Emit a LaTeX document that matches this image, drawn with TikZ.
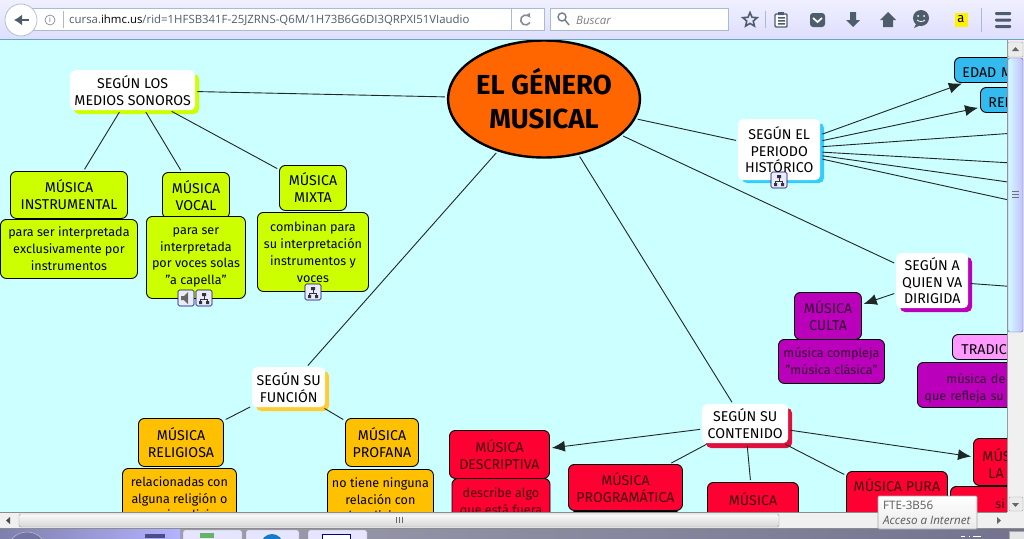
\documentclass[tikz,border=0pt]{standalone}
\usepackage{fontspec}
\setmainfont{Fira Sans}
\newfontfamily\uifont{Open Sans}
\usetikzlibrary{arrows.meta,shapes.geometric}
\definecolor{canvas}{HTML}{CCFFFF}
\definecolor{limec}{HTML}{CCFF00}
\definecolor{bluec}{HTML}{33BBF0}
\definecolor{bluel}{HTML}{33CCFF}
\definecolor{purplec}{HTML}{BB00BB}
\definecolor{pinkc}{HTML}{FF99FF}
\definecolor{ambc}{HTML}{FFC000}
\definecolor{redc}{HTML}{FF0033}
\definecolor{crimsonc}{HTML}{E0103C}
\definecolor{orangec}{HTML}{FF6600}
\definecolor{uigray}{HTML}{4E5D6C}
\definecolor{uiline}{HTML}{A9BCCB}
\tikzset{
  x=1pt,y=-1pt,
  txt/.style={font=\fontsize{14.2}{16.9}\selectfont,align=center,text=black,execute at begin node={\rule{0pt}{16pt}}},
  desc/.style={font=\fontsize{12.6}{16.9}\selectfont,execute at begin node={\rule{0pt}{12.5pt}}},
  box/.style={txt,draw=black,line width=.9pt,rounded corners=6pt,inner sep=0pt,anchor=north west},
  topic/.style={txt,fill=white,rounded corners=5pt,inner sep=0pt,anchor=north west},
  backing/.style={fill=#1,rounded corners=5pt},
  link/.style={draw=black!85!canvas,line width=.9pt,shorten <=2pt,shorten >=2pt},
  arrowlink/.style={link,-{Latex[length=13pt,width=11pt]}},
  iconbox/.style={draw=blue!45!black,line width=.6pt,fill=blue!8,rounded corners=1.5pt},
  ctl/.style={fill=#1,draw=uiline,line width=.7pt},
  offpage/.style={align=left,inner xsep=#1}
}
\newcommand{\treeicon}[2]{%
  \draw[iconbox] (#1,#2) rectangle ++(16,16);
  \fill[black!80] (#1+6,#2+3) rectangle ++(4,3) (#1+3,#2+11) rectangle ++(3,3)
     (#1+10,#2+11) rectangle ++(3,3);
  \draw[black!80,line width=.6pt] (#1+8,#2+6) -- (#1+8,#2+9) (#1+4.5,#2+11) -- (#1+4.5,#2+9) -- (#1+11.5,#2+9) -- (#1+11.5,#2+11);
}
\begin{document}
\begin{tikzpicture}
\clip (0,0) rectangle (1024,538);
\fill[canvas] (0,0) rectangle (1024,538);

% ---- shadows of the topic nodes
\fill[backing=limec] (74,74) rectangle (199,114);
\fill[backing=bluel] (742,123) rectangle (824,183);
\fill[backing=purplec] (900,257) rectangle (972,312);
\fill[backing=ambc!80!white] (256,371) rectangle (329,411);
\fill[backing=crimsonc] (706,408) rectangle (792,448);

% ---- nodes
\node[ellipse,draw=black,line width=2.4pt,fill=orangec,minimum width=191pt,minimum height=117pt,inner sep=0pt,align=center,
  font=\fontsize{27.5}{34}\bfseries\selectfont,execute at begin node={\rule{0pt}{30pt}}] (root) at (544,99) {EL GÉNERO\\MUSICAL};

\node[topic,minimum width=125pt,minimum height=40pt] (medios) at (70,70) {SEGÚN LOS\\MEDIOS SONOROS};
\node[topic,minimum width=82pt,minimum height=61pt] (periodo) at (738,119) {SEGÚN EL\\PERIODO\hspace*{7pt}\\HISTÓRICO};
\node[topic,minimum width=72pt,minimum height=55pt] (quien) at (896,253) {SEGÚN A\\QUIEN VA\\DIRIGIDA};
\node[topic,minimum width=73pt,minimum height=40pt] (funcion) at (252,367) {SEGÚN SU\\FUNCIÓN};
\node[topic,minimum width=86pt,minimum height=39pt] (contenido) at (702,404) {SEGÚN SU\\CONTENIDO};

% lime group
\node[box,fill=limec,minimum width=117pt,minimum height=47pt] (instr) at (10,171) {MÚSICA\\INSTRUMENTAL};
\node[box,desc,fill=limec,minimum width=137pt,minimum height=59pt] (instrd) at (0,219) {para ser interpretada\\exclusivamente por\\instrumentos};
\node[box,fill=limec,minimum width=67pt,minimum height=46pt] (vocal) at (162,172) {MÚSICA\\VOCAL};
\node[box,desc,fill=limec,minimum width=99pt,minimum height=82pt] (vocald) at (146,216) {para ser\\interpretada\\por voces solas\\"a capella"};
\node[box,fill=limec,minimum width=67pt,minimum height=45pt] (mixta) at (279,165) {MÚSICA\\MIXTA};
\node[box,desc,fill=limec,minimum width=111pt,minimum height=79pt] (mixtad) at (257,212) {combinan para\\su interpretación\\instrumentos y\\voces};

% blue group (run off the right edge)
\node[box,offpage=8pt,fill=bluec,text width=74pt,minimum height=25pt] (edad) at (954,57) {EDAD M};
\node[box,offpage=8pt,fill=bluec,text width=54pt,minimum height=25pt] (renac) at (980,87) {REN};
\coordinate (p3) at (1100,127);
\coordinate (p4) at (1100,168);
\coordinate (p5) at (1100,195);
\coordinate (p6) at (1100,220);

% purple group
\node[box,fill=purplec,text=black!75!purplec,minimum width=67pt,minimum height=47pt] (culta) at (794,292) {MÚSICA\\CULTA};
\node[box,desc,fill=purplec,text=black!75!purplec,minimum width=106pt,minimum height=44pt] (cultad) at (778,339) {música compleja\\"música clásica"};
\node[box,offpage=9pt,fill=pinkc,text width=92pt,minimum height=25pt] (trad) at (952,334) {TRADIC};
\node[box,desc,offpage=7pt,fill=purplec,text=black!75!purplec,text width=176pt,minimum height=45pt] (tradd) at (917,362) {\hspace*{22pt}música de u\\que refleja su t};
\coordinate (q2) at (1100,293);

% amber group
\node[box,fill=ambc,minimum width=85pt,minimum height=48pt] (relig) at (138,418) {MÚSICA\\RELIGIOSA};
\node[box,desc,fill=ambc,minimum width=114pt,minimum height=62pt] (religd) at (122,468) {relacionadas con\\alguna religión o\\creencia religiosa};
\node[box,fill=ambc,minimum width=73pt,minimum height=48pt] (profana) at (345,418) {MÚSICA\\PROFANA};
\node[box,desc,fill=ambc,minimum width=106pt,minimum height=62pt] (profanad) at (327,469) {no tiene ninguna\\relación con\\lo religioso};

% red group
\node[box,fill=redc,text=black!75!redc,minimum width=100pt,minimum height=48pt] (descr) at (449,430) {MÚSICA\\DESCRIPTIVA};
\node[box,desc,fill=redc,text=black!75!redc,minimum width=98pt,minimum height=62pt,anchor=north] (descrd) at (501,478) {describe algo\\que está fuera\\\phantom{x}};
\node[box,fill=redc,text=black!75!redc,minimum width=114pt,minimum height=46pt] (progr) at (568,464) {MÚSICA\\PROGRAMÁTICA};
\node[box,fill=black,minimum width=108pt,minimum height=20pt] (progrd) at (571,510) {};
\node[box,fill=redc,text=black!75!redc,minimum width=91pt,minimum height=50pt] (third) at (707,482) {MÚSICA\\\phantom{x}};
\node[box,fill=redc,text=black!75!redc,minimum width=101pt,minimum height=60pt] (pura) at (846,471) {MÚSICA PURA\\\phantom{x}\\\phantom{x}};
\node[box,offpage=9pt,fill=redc,text=black!75!redc,text width=52pt,minimum height=47pt] (la) at (973,438) {MÚS\\\hspace*{6pt}LA};
\node[box,desc,offpage=45pt,fill=redc,text=black!75!redc,text width=20pt,minimum height=28pt] (lad) at (950,486) {si};

% ---- connectors
\draw[link] (root) -- (medios);
\draw[link] (medios) -- (instr);
\draw[link] (medios) -- (vocal);
\draw[link] (medios) -- (mixta);
\draw[link] (root) -- (periodo);
\draw[arrowlink] (periodo) -- (edad);
\draw[arrowlink] (periodo) -- (renac);
\draw[link] (periodo) -- (p3);
\draw[link] (periodo) -- (p4);
\draw[link] (periodo) -- (p5);
\draw[link] (periodo) -- (p6);
\draw[link] (root) -- (quien);
\draw[arrowlink] (quien) -- (culta);
\draw[link] (quien) -- (q2);
\draw[link] (root) -- (funcion);
\draw[link] (funcion) -- (relig);
\draw[link] (funcion) -- (profana);
\draw[link] (root) -- (contenido);
\draw[arrowlink] (contenido) -- (descr);
\draw[link] (contenido) -- (progr);
\draw[link] (contenido) -- (third);
\draw[link] (contenido) -- (pura);
\draw[arrowlink] (contenido) -- (la);

% ---- resource icons
\draw[iconbox] (178,290) rectangle ++(16,16);
\fill[black!60] (181,296) -- (184,296) -- (188,292) -- (188,304) -- (184,300) -- (181,300) -- cycle;
\treeicon{196}{290}
\treeicon{305}{284}
\treeicon{771}{172}

% ---- browser: toolbar
\shade[top color=blue!6!white,bottom color=blue!13!white] (0,0) rectangle (1024,39);
\draw[color=cyan!45!gray,line width=1pt] (0,39.5) -- (1024,39.5);
\draw[ctl=white] (32,8) rectangle (544,30);
\draw[uiline,fill=white,line width=.7pt] (21,20) circle (16pt);
\draw[uigray,line width=2.8pt,-{Latex[length=8pt,width=11pt]}] (29,20) -- (14,20);
\draw[uigray!70,line width=.7pt] (50,20) circle (5pt);
\node[font=\uifont\fontsize{7}{7}\selectfont,text=uigray,inner sep=0pt] (info) at (50,20) {i};
\draw[uiline] (63,11) -- (63,28);
\node[font=\uifont\fontsize{11.4}{12}\selectfont,anchor=west,inner sep=0pt,text=uigray] (url) at (69,20)
  {cursa.\textcolor{black}{ihmc.us}/rid=1HFSB341F-25JZRNS-Q6M/1H73B6G6DI3QRPXI51VIaudio};
\draw[uiline] (511,8) -- (511,30);
\draw[uigray!70,line width=1.6pt,-{Latex[length=4pt,width=5pt]}] (530,22.5) arc[start angle=30,end angle=330,radius=5];
\draw[ctl=white] (550,8) rectangle (728,30);
\draw[uigray!80,line width=1.4pt] (562,17) circle (4pt) (565,20) -- (569,25);
\node[font=\uifont\itshape\fontsize{11.5}{12}\selectfont,text=gray,anchor=west,inner sep=0pt] (buscar) at (576,20) {Buscar};
\node[star,star points=5,star point ratio=2.2,draw=uigray,line width=1.6pt,minimum size=15pt,inner sep=0pt] (star) at (750,20) {};
\draw[uiline] (765,11) -- (765,28);
\draw[uigray,line width=1.4pt,fill=white,rounded corners=1pt] (775,14) rectangle (787,27);
\fill[uigray] (778,12) rectangle (784,15) (778,17) rectangle (785,18.5) (778,20) rectangle (785,21.5) (778,23) rectangle (785,24.5);
\fill[uigray,rounded corners=3pt] (810,13) rectangle (825,27);
\draw[white,line width=1.7pt] (813,18) -- (817.5,22) -- (822,18);
\fill[uigray] (850,12) -- (856,12) -- (856,20) -- (860,20) -- (853,27) -- (846,20) -- (850,20) -- cycle;
\fill[uigray] (880,20) -- (888,12) -- (896,20) -- (893,20) -- (893,27) -- (883,27) -- (883,20) -- cycle;
\fill[uigray] (921,18) circle (8pt) (916,24) -- (914,28) -- (921,25) -- cycle;
\fill[white] (918,16) circle (1pt) (924,16) circle (1pt);
\draw[white,line width=.8pt] (917,20) .. controls (919,22) and (923,22) .. (925,20);
\fill[yellow] (955,13) rectangle (968,27);
\node[font=\fontsize{13}{13}\selectfont,text=black,inner sep=0pt] (amazon) at (961,19.5) {a};
\draw[uiline] (981,8) -- (981,32);
\fill[uigray,rounded corners=1pt] (995,12) rectangle (1011,15) (995,18.5) rectangle (1011,21.5) (995,25) rectangle (1011,28);

% ---- browser: scroll bars
\fill[black!6] (1007,40) rectangle (1024,512);
\draw[black!40,line width=.6pt] (1007,40) -- (1007,512);
\draw[black!35,fill=black!8,rounded corners=1pt] (1008,42) rectangle (1023,57);
\fill[black!60] (1012,51) -- (1015.5,47) -- (1019,51) -- cycle;
\shade[left color=white!30!blue!18!cyan!18,right color=blue!24!white,draw=blue!30!gray,rounded corners=1.5pt] (1008,58) rectangle (1023,332);
\draw[black!55,line width=.6pt] (1012,191) -- (1019,191) (1012,194) -- (1019,194) (1012,197) -- (1019,197);
\draw[black!35,fill=black!8,rounded corners=1pt] (1009,497) rectangle (1023,511);
\fill[black!60] (1012,503) -- (1019,503) -- (1015.5,507) -- cycle;

\fill[black!6] (0,512) rectangle (1024,529);
\draw[black!45,line width=.6pt] (0,512) -- (1007,512) (0,528.5) -- (1024,528.5);
\fill[black!70] (10,517) -- (6,520.5) -- (10,524) -- cycle;
\shade[top color=black!2,bottom color=black!16,draw=black!40,rounded corners=1.5pt] (19,514) rectangle (779,527);
\draw[black!60,line width=.7pt] (396,517) -- (396,523) (399,517) -- (399,523) (402,517) -- (402,523);
\fill[black!60] (997,517) -- (1001,520.5) -- (997,524) -- cycle;

% ---- taskbar
\shade[left color=blue!15!black!35!white,right color=blue!20!black!55!white] (0,529) rectangle (1024,538);
\shade[left color=blue!35!black!50!white,right color=blue!30!white] (0,529) rectangle (180,538);
\draw[white!80!black,fill=blue!35!black!55!white] (27,552) circle (20pt);
\fill[blue!35!black!70!white] (145,534) rectangle (165,538);
\foreach \a/\b in {183/242,246/299,308/367}{
  \draw[black!40,fill=white!90!blue,rounded corners=2pt] (\a,530) rectangle (\b,545);
}
\fill[green!50!black!60] (200,533) rectangle (214,538);
\fill[cyan!60!blue] (272,545) circle (11pt);
\draw[blue!60!black,line width=.8pt,fill=white] (322,534) rectangle (350,545);
\draw[black!35,fill=black!10] (1009,531) rectangle (1024,540);
\draw[white,line width=1pt] (961,536) -- (965,536) (969,536) -- (970,536) (973,536) -- (981,536);

% ---- tooltip
\shade[top color=white,bottom color=black!8,draw=black!35,line width=.7pt,rounded corners=1pt] (878,496) rectangle (977,529);
\node[font=\uifont\fontsize{11.6}{13}\selectfont,text=black!65,anchor=west,inner sep=0pt] (tipa) at (883,505) {FTE-3B56};
\node[font=\uifont\itshape\fontsize{11.6}{13}\selectfont,text=black!65,anchor=west,inner sep=0pt] (tipb) at (883,520) {Acceso a Internet};
\end{tikzpicture}
\end{document}
